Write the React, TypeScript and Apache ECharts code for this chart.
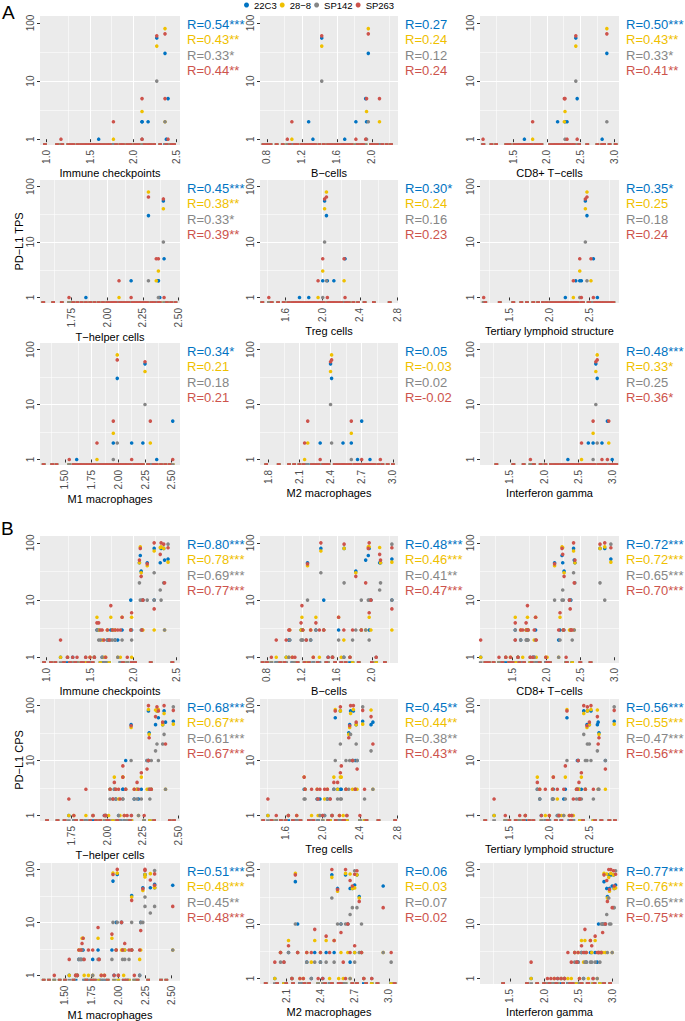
import React, { useEffect, useRef } from "react";
import * as echarts from "echarts";

const FONT = '"Liberation Sans", Arial, Helvetica, sans-serif';
const ANTIBODIES = ["22C3", "28−8", "SP142", "SP263"];
const COLORS = ["#0073C2", "#EFC000", "#868686", "#CD534C"];

// y axis (log10) tick labels
const Y_TICKS = [1, 10, 100];
const Y_MIN = -0.1;
const Y_MAX = 2.12;

// ---------- Section A: PD-L1 TPS per sample (41 samples) ----------
const tps22C3 = [55, 30, 2, 0, 5, 2, 2, 1, 0, 1, 0,
  0, 0, 0, 0, 0, 0, 0, 0, 0, 0, 0, 0, 0, 0, 0, 0, 0, 0, 0, 0, 0, 0, 0, 0, 0, 0, 0, 0, 0, 0];
const tps288 = [40, 80, 3, 2, 0, 0, 0, 0, 1, 0, 0,
  0, 0, 0, 0, 0, 0, 0, 0, 0, 0, 0, 0, 0, 0, 0, 0, 0, 0, 0, 0, 0, 0, 0, 0, 0, 0, 0, 0, 0, 0];
const tpsSP142 = [10, 2, 1, 0, 0, 0, 0, 0, 0, 0, 0,
  0, 0, 0, 0, 0, 0, 0, 0, 0, 0, 0, 0, 0, 0, 0, 0, 0, 0, 0, 0, 0, 0, 0, 0, 0, 0, 0, 0, 0, 0];
const tpsSP263 = [60, 65, 5, 5, 1, 1, 0, 0, 2, 0, 1,
  0, 0, 0, 0, 0, 0, 0, 0, 0, 0, 0, 0, 0, 0, 0, 0, 0, 0, 0, 0, 0, 0, 0, 0, 0, 0, 0, 0, 0, 0];

// signature scores (x) per sample, section A
const xA_immune = [2.27, 2.365, 2.10, 2.365, 2.40, 2.10, 2.17, 2.38, 1.77, 1.60, 1.165, 0.98, 1.12, 1.18, 1.25, 1.28, 1.31, 1.36, 1.40, 1.44, 1.47, 1.50, 1.53, 1.56, 1.62, 1.66, 1.70, 1.73, 1.80, 1.85, 1.88, 1.93, 1.97, 2.02, 2.06, 2.13, 2.20, 2.24, 2.31, 2.44, 2.47];
const xA_bcells = [1.427, 1.96, 1.94, 2.088, 1.93, 1.818, 1.277, 1.69, 1.085, 1.326, 1.033, 0.76, 0.80, 0.84, 0.91, 0.98, 1.06, 1.12, 1.15, 1.20, 1.24, 1.30, 1.35, 1.40, 1.45, 1.50, 1.54, 1.58, 1.62, 1.66, 1.73, 1.77, 1.84, 1.88, 1.90, 1.99, 2.02, 2.06, 2.12, 2.17, 2.22];
const xA_cd8 = [2.43, 2.89, 2.27, 2.26, 2.45, 2.30, 2.16, 2.82, 1.79, 1.668, 1.055, 1.06, 1.18, 1.25, 1.40, 1.45, 1.52, 1.57, 1.60, 1.64, 1.70, 1.74, 1.77, 1.83, 1.88, 1.92, 2.05, 2.10, 2.13, 2.20, 2.24, 2.28, 2.33, 2.37, 2.40, 2.48, 2.60, 2.75, 2.85, 2.93, 3.02];
const xA_th = [2.395, 2.29, 2.36, 2.345, 2.40, 2.168, 2.36, 2.37, 2.083, 1.85, 1.731, 1.55, 1.62, 1.68, 1.76, 1.79, 1.82, 1.88, 1.91, 1.94, 1.97, 2.00, 2.02, 2.04, 2.06, 2.09, 2.11, 2.13, 2.15, 2.18, 2.20, 2.22, 2.24, 2.26, 2.28, 2.31, 2.33, 2.42, 2.45, 2.48, 2.05];
const xA_treg = [2.02, 2.04, 2.00, 2.23, 2.24, 2.05, 2.12, 1.85, 1.95, 1.75, 1.42, 1.35, 1.45, 1.52, 1.58, 1.63, 1.67, 1.70, 1.72, 1.77, 1.80, 1.83, 1.87, 1.90, 1.92, 1.96, 1.99, 2.01, 2.06, 2.08, 2.10, 2.14, 2.17, 2.20, 2.25, 2.28, 2.33, 2.38, 2.45, 2.55, 2.72];
const xA_tls = [2.45, 2.47, 2.38, 2.52, 2.55, 2.40, 2.33, 2.60, 2.30, 2.20, 1.18, 1.20, 1.38, 1.55, 1.65, 1.72, 1.80, 1.86, 1.92, 1.97, 2.02, 2.06, 2.10, 2.14, 2.18, 2.22, 2.26, 2.29, 2.32, 2.35, 2.42, 2.49, 2.50, 2.57, 2.62, 2.65, 2.68, 2.72, 2.76, 2.80, 2.40];
const xA_m1 = [2.25, 1.99, 1.953, 2.30, 2.51, 2.125, 2.23, 2.36, 1.80, 1.61, 1.54, 1.30, 1.38, 1.42, 1.58, 1.64, 1.66, 1.69, 1.72, 1.75, 1.78, 1.82, 1.85, 1.88, 1.90, 1.93, 1.96, 1.98, 2.01, 2.03, 2.06, 2.08, 2.11, 2.15, 2.18, 2.20, 2.28, 2.33, 2.40, 2.44, 2.48];
const xA_m2 = [2.40, 2.41, 2.60, 2.18, 2.70, 2.30, 2.52, 2.78, 2.15, 2.66, 2.88, 1.78, 1.90, 2.00, 2.05, 2.10, 2.14, 2.22, 2.25, 2.28, 2.33, 2.36, 2.44, 2.47, 2.50, 2.54, 2.57, 2.59, 2.63, 2.65, 2.68, 2.72, 2.74, 2.76, 2.80, 2.82, 2.86, 2.90, 2.95, 3.00, 2.38];
const xA_ifn = [2.76, 2.78, 2.72, 2.95, 2.93, 2.85, 2.65, 3.00, 2.55, 2.35, 1.80, 1.30, 1.55, 1.70, 1.85, 1.95, 2.02, 2.10, 2.15, 2.20, 2.25, 2.30, 2.38, 2.42, 2.46, 2.50, 2.53, 2.58, 2.61, 2.63, 2.68, 2.70, 2.74, 2.80, 2.83, 2.88, 2.90, 2.97, 3.03, 3.06, 2.40];

// ---------- Section B: PD-L1 CPS per sample (52 samples) ----------
const cps22C3 = [52, 80, 80, 80, 50, 45, 60, 32, 45, 45, 10, 10, 3, 10, 3, 3, 2, 3, 3, 3, 2, 1, 0, 1, 0, 3, 0, 0, 1, 0, 0, 0, 0, 1, 0, 0, 2, 0,
  0, 0, 0, 0, 0, 0, 0, 0, 0, 0, 0, 0, 0, 0];
const cps288 = [46, 85, 80, 72, 3, 83, 85, 30, 40, 45, 3, 3, 5, 3, 5, 5, 3, 3, 3, 5, 3, 1, 1, 1, 1, 3, 1, 0, 2, 1, 0, 1, 0, 0, 0, 1, 1, 0,
  0, 0, 0, 0, 0, 0, 0, 0, 0, 0, 0, 0, 0, 0];
const cpsSP142 = [95, 10, 20, 30, 3, 15, 10, 3, 10, 20, 10, 3, 2, 10, 2, 3, 2, 10, 2, 2, 2, 0, 0, 1, 0, 2, 0, 2, 1, 1, 0, 0, 1, 0, 0, 0, 1, 2,
  0, 0, 0, 0, 0, 0, 0, 0, 0, 0, 0, 0, 0, 0];
const cpsSP263 = [82, 100, 95, 100, 20, 63, 80, 26, 43, 50, 7, 3, 6, 10, 8, 4, 3, 3, 3, 5, 3, 2, 2, 1, 1, 4, 3, 2, 3, 1, 1, 0, 1, 1, 1, 1, 3, 3,
  0, 0, 0, 0, 0, 0, 0, 0, 0, 0, 0, 0, 0, 0];

const xB_immune = [2.40, 2.32, 2.35, 2.24, 2.36, 2.31, 2.08, 2.09, 2.16, 2.07, 2.24, 1.97, 1.98, 2.11, 1.74, 1.58, 1.79, 2.10, 1.76, 1.87, 1.70, 1.16, 1.66, 1.55, 1.50, 1.60, 1.85, 1.72, 1.64, 1.24, 1.93, 1.98, 1.45, 1.30, 1.35, 1.68, 1.82, 1.62, 0.97, 1.05, 1.10, 1.20, 1.27, 1.33, 1.40, 1.42, 1.48, 1.53, 1.88, 2.02, 2.20, 2.45];
const xB_bcells = [2.23, 1.97, 1.683, 1.417, 1.93, 2.09, 1.96, 1.817, 1.264, 2.10, 2.23, 1.45, 1.97, 1.99, 1.20, 1.36, 1.06, 1.88, 1.21, 1.62, 1.30, 1.02, 0.906, 1.55, 1.09, 1.19, 1.40, 1.25, 1.68, 1.75, 1.12, 1.65, 2.05, 1.50, 0.85, 1.33, 1.05, 1.78, 0.75, 0.80, 0.95, 1.00, 1.15, 1.23, 1.28, 1.38, 1.48, 1.58, 1.70, 1.85, 2.00, 2.15];
const xB_cd8 = [2.95, 2.86, 2.79, 2.40, 2.41, 2.24, 2.23, 2.26, 2.12, 2.42, 2.35, 2.36, 2.20, 2.34, 1.72, 1.54, 1.71, 2.25, 1.73, 1.84, 1.62, 1.03, 1.85, 1.58, 1.47, 1.70, 1.65, 1.54, 1.82, 1.40, 2.29, 2.01, 1.76, 1.80, 1.30, 1.99, 2.18, 2.38, 1.10, 1.15, 1.22, 1.35, 1.45, 1.50, 1.60, 1.67, 1.78, 1.90, 2.05, 2.30, 2.50, 2.65];
const xB_th = [2.465, 2.29, 2.35, 2.40, 2.41, 2.34, 2.36, 2.295, 2.168, 2.39, 2.28, 2.13, 2.24, 2.29, 2.11, 2.05, 2.19, 2.31, 2.02, 2.11, 2.06, 1.73, 2.09, 1.99, 1.765, 2.21, 1.85, 2.04, 2.08, 1.90, 2.14, 2.01, 2.17, 1.98, 2.26, 2.12, 2.22, 2.30, 1.577, 1.65, 1.70, 1.78, 1.82, 1.88, 1.92, 1.95, 2.00, 2.07, 2.16, 2.33, 2.44, 2.47];
const xB_treg = [2.43, 2.33, 2.19, 2.30, 2.54, 2.52, 2.135, 2.28, 2.29, 2.36, 2.37, 2.35, 2.19, 2.32, 2.20, 2.12, 1.94, 2.25, 1.81, 1.80, 2.05, 1.41, 1.95, 2.10, 1.72, 2.16, 1.88, 2.08, 2.02, 1.63, 2.40, 2.22, 2.26, 2.00, 1.50, 2.18, 1.97, 2.45, 1.36, 1.45, 1.55, 1.60, 1.68, 1.76, 1.85, 1.90, 2.06, 2.14, 2.23, 2.47, 2.60, 2.78];
const xB_tls = [2.81, 2.52, 2.475, 2.43, 2.61, 2.60, 2.22, 2.62, 2.47, 2.50, 2.70, 2.35, 2.40, 2.36, 2.20, 1.85, 2.04, 2.45, 2.34, 2.05, 1.88, 1.31, 2.30, 2.12, 2.00, 2.37, 1.95, 2.38, 2.10, 1.70, 1.63, 2.15, 2.28, 1.90, 1.45, 2.25, 2.18, 2.55, 1.20, 1.50, 1.58, 1.68, 1.75, 1.80, 1.98, 2.08, 2.27, 2.42, 2.57, 2.65, 2.75, 2.82];
const xB_m1 = [2.34, 1.99, 2.25, 2.25, 2.51, 2.30, 1.95, 2.125, 2.23, 2.34, 2.21, 1.98, 1.94, 2.03, 1.81, 1.66, 1.65, 2.125, 2.04, 1.67, 1.63, 1.54, 1.68, 1.616, 1.84, 2.06, 1.72, 1.82, 2.20, 1.60, 1.40, 2.05, 2.00, 1.96, 2.15, 1.87, 1.76, 2.10, 1.30, 1.35, 1.45, 1.50, 1.58, 1.70, 1.75, 1.78, 1.90, 2.08, 2.18, 2.28, 2.40, 2.45];
const xB_m2 = [2.70, 2.62, 2.72, 2.50, 2.95, 2.66, 2.18, 2.74, 2.55, 2.68, 2.58, 2.20, 2.45, 2.64, 2.35, 2.12, 2.40, 2.76, 2.05, 2.52, 2.28, 2.00, 2.60, 2.15, 2.25, 2.70, 2.48, 2.08, 2.32, 2.78, 2.38, 2.56, 2.85, 2.42, 2.62, 2.22, 2.66, 3.02, 1.92, 2.02, 2.10, 2.16, 2.26, 2.30, 2.44, 2.50, 2.58, 2.68, 2.72, 2.80, 2.90, 3.05];
const xB_ifn = [3.05, 2.98, 3.02, 2.95, 3.00, 2.92, 2.88, 2.93, 2.96, 3.03, 2.86, 2.80, 2.75, 2.90, 2.60, 2.55, 2.62, 2.84, 2.45, 2.68, 2.50, 1.81, 2.40, 2.30, 2.15, 2.70, 2.35, 2.48, 2.58, 2.25, 2.10, 2.65, 2.72, 2.20, 2.05, 2.52, 2.78, 2.82, 1.40, 1.75, 1.90, 2.00, 2.08, 2.18, 2.28, 2.38, 2.42, 2.55, 2.64, 2.74, 2.88, 2.97];

// panel titles
const TITLES = ["Immune checkpoints", "B−cells", "CD8+ T−cells", "T−helper cells", "Treg cells",
  "Tertiary lymphoid structure", "M1 macrophages", "M2 macrophages", "Interferon gamma"];

// x tick labels per panel
const ticksImmune = [1.0, 1.5, 2.0, 2.5];
const ticksBcells = [0.8, 1.2, 1.6, 2.0];
const ticksCD8 = [1.5, 2.0, 2.5, 3.0];
const ticksTh = [1.75, 2.0, 2.25, 2.5];
const ticksTreg = [1.6, 2.0, 2.4, 2.8];
const ticksTLS = [1.5, 2.0, 2.5];
const ticksM1 = [1.5, 1.75, 2.0, 2.25, 2.5];
const ticksM2A = [1.8, 2.1, 2.4, 2.7, 3.0];
const ticksM2B = [2.1, 2.4, 2.7, 3.0];
const ticksIFN = [1.5, 2.0, 2.5, 3.0];

// correlation labels (22C3, 28-8, SP142, SP263)
const R_A = [
  ["0.54***", "0.43**", "0.33*", "0.44**"],
  ["0.27", "0.24", "0.12", "0.24"],
  ["0.50***", "0.43**", "0.33*", "0.41**"],
  ["0.45***", "0.38**", "0.33*", "0.39**"],
  ["0.30*", "0.24", "0.16", "0.23"],
  ["0.35*", "0.25", "0.18", "0.24"],
  ["0.34*", "0.21", "0.18", "0.21"],
  ["0.05", "-0.03", "0.02", "-0.02"],
  ["0.48***", "0.33*", "0.25", "0.36*"],
];
const R_B = [
  ["0.80***", "0.78***", "0.69***", "0.77***"],
  ["0.48***", "0.46***", "0.41**", "0.47***"],
  ["0.72***", "0.72***", "0.65***", "0.70***"],
  ["0.68***", "0.67***", "0.61***", "0.67***"],
  ["0.45**", "0.44**", "0.38**", "0.43**"],
  ["0.56***", "0.55***", "0.47***", "0.56***"],
  ["0.51***", "0.48***", "0.45**", "0.48***"],
  ["0.06", "0.03", "0.07", "0.02"],
  ["0.77***", "0.76***", "0.65***", "0.75***"],
];

// ---------- layout ----------
const COLS = [
  { left: 40, width: 140 },
  { left: 260, width: 138 },
  { left: 480, width: 139 },
];
const ROWS = [
  { top: 16, height: 129 },
  { top: 180, height: 123 },
  { top: 343, height: 122 },
  { top: 536, height: 127 },
  { top: 699, height: 122 },
  { top: 863, height: 121 },
];
const DOT = 3.6;

type Panel = {
  xs: number[];
  ys: number[][];
  title: string;
  range: number[];
  step: number;
  ticks: number[];
  r: string[];
  row: number;
  col: number;
  ylab?: string;
};

function buildPanels(): Panel[] {
  const A = [tps22C3, tps288, tpsSP142, tpsSP263];
  const B = [cps22C3, cps288, cpsSP142, cpsSP263];
  const xsA = [xA_immune, xA_bcells, xA_cd8, xA_th, xA_treg, xA_tls, xA_m1, xA_m2, xA_ifn];
  const xsB = [xB_immune, xB_bcells, xB_cd8, xB_th, xB_treg, xB_tls, xB_m1, xB_m2, xB_ifn];
  const rangesA = [[0.923, 2.538], [0.72, 2.3], [1.01, 3.07], [1.527, 2.512], [1.325, 2.81], [1.134, 2.87], [1.266, 2.578], [1.72, 3.05], [1.06, 3.1]];
  const rangesB = [[0.923, 2.538], [0.72, 2.3], [1.02, 3.07], [1.527, 2.512], [1.325, 2.81], [1.134, 2.87], [1.266, 2.578], [1.87, 3.08], [1.06, 3.1]];
  const steps = [0.5, 0.4, 0.5, 0.25, 0.4, 0.5, 0.25, 0.3, 0.5];
  const ticksA = [ticksImmune, ticksBcells, ticksCD8, ticksTh, ticksTreg, ticksTLS, ticksM1, ticksM2A, ticksIFN];
  const ticksB = [ticksImmune, ticksBcells, ticksCD8, ticksTh, ticksTreg, ticksTLS, ticksM1, ticksM2B, ticksIFN];
  const out: Panel[] = [];
  for (let s = 0; s < 2; s++) {
    for (let i = 0; i < 9; i++) {
      out.push({
        xs: s === 0 ? xsA[i] : xsB[i],
        ys: s === 0 ? A : B,
        title: TITLES[i],
        range: s === 0 ? rangesA[i] : rangesB[i],
        step: steps[i],
        ticks: s === 0 ? ticksA[i] : ticksB[i],
        r: s === 0 ? R_A[i] : R_B[i],
        row: s * 3 + Math.floor(i / 3),
        col: i % 3,
        ylab: i === 3 ? (s === 0 ? "PD−L1 TPS" : "PD−L1 CPS") : undefined,
      });
    }
  }
  return out;
}

// zero values sit on the panel's lower edge (log scale -Inf), drawn clipped as half dots
const toPoint = (x: number, v: number) =>
  v > 0
    ? [x, Math.log10(v)]
    : { value: [x, Y_MIN], symbol: "rect", symbolSize: [DOT, DOT / 2], symbolOffset: [0, -DOT / 4] };

function buildOption() {
  const panels = buildPanels();
  const grids: any[] = [];
  const xAxes: any[] = [];
  const yAxes: any[] = [];
  const series: any[] = [];
  const graphics: any[] = [];
  const yTickVals = Y_TICKS.map((t) => Math.log10(t));

  panels.forEach((p, i) => {
    const c = COLS[p.col];
    const r = ROWS[p.row];
    grids.push({
      left: c.left, top: r.top, width: c.width, height: r.height,
      show: true, backgroundColor: "#EBEBEB", borderWidth: 0, borderColor: "transparent",
    });
    const dec = p.step < 0.3 ? 2 : 1;
    xAxes.push({
      type: "value", gridIndex: i, min: p.range[0], max: p.range[1],
      splitNumber: 4, minInterval: p.step, maxInterval: p.step,
      name: p.title, nameLocation: "middle", nameGap: dec === 2 ? 23 : 18,
      nameTextStyle: { fontSize: 11, color: "#000", fontFamily: FONT },
      axisLine: { show: false },
      axisTick: { show: true, length: 3, lineStyle: { color: "#333", width: 1 }, customValues: p.ticks },
      axisLabel: {
        rotate: 90, margin: 5, fontSize: 10, color: "#4D4D4D", fontFamily: FONT,
        customValues: p.ticks, showMinLabel: true, showMaxLabel: true,
        formatter: (v: number) => (p.ticks.some((t) => Math.abs(t - v) < 1e-6) ? v.toFixed(dec) : ""),
      },
      splitLine: { show: true, showMinLine: false, showMaxLine: false, lineStyle: { color: "#FFFFFF", width: 1.1 } },
      minorTick: { show: false, splitNumber: 2 },
      minorSplitLine: { show: true, lineStyle: { color: "#FFFFFF", width: 0.55 } },
    });
    yAxes.push({
      type: "value", gridIndex: i, min: Y_MIN, max: Y_MAX,
      splitNumber: 2, minInterval: 1, maxInterval: 1,
      name: p.ylab || "", nameLocation: "middle", nameGap: 13,
      nameTextStyle: { fontSize: 11, color: "#000", fontFamily: FONT },
      axisLine: { show: false },
      axisTick: { show: true, length: 3, lineStyle: { color: "#333", width: 1 }, customValues: yTickVals },
      axisLabel: {
        rotate: 90, margin: 5, fontSize: 10, color: "#4D4D4D", fontFamily: FONT,
        customValues: yTickVals,
        formatter: (v: number) => {
          const k = yTickVals.findIndex((t) => Math.abs(t - v) < 1e-6);
          return k >= 0 ? String(Y_TICKS[k]) : "";
        },
      },
      splitLine: { show: true, showMinLine: false, showMaxLine: false, lineStyle: { color: "#FFFFFF", width: 1.1 } },
      minorTick: { show: false, splitNumber: 2 },
      minorSplitLine: { show: true, lineStyle: { color: "#FFFFFF", width: 0.55 } },
    });
    p.ys.forEach((vals, k) => {
      series.push({
        type: "scatter", name: ANTIBODIES[k], xAxisIndex: i, yAxisIndex: i,
        symbol: "circle", symbolSize: DOT, clip: true, silent: true,
        itemStyle: { color: COLORS[k], opacity: 1 },
        data: p.xs.map((x, j) => toPoint(x, vals[j])),
      });
    });
    p.r.forEach((txt, k) => {
      graphics.push({
        type: "text", x: c.left + c.width + 7, y: r.top + 8 + k * 15.6,
        silent: true,
        style: { text: "R=" + txt, fill: COLORS[k], fontSize: 13, fontFamily: FONT, verticalAlign: "middle", align: "left" },
      });
    });
  });

  graphics.push({ type: "text", x: 2, y: 3, style: { text: "A", fill: "#000", fontSize: 19, fontFamily: FONT } });
  graphics.push({ type: "text", x: 1, y: 519, style: { text: "B", fill: "#000", fontSize: 19, fontFamily: FONT } });

  return {
    animation: false,
    backgroundColor: "#FFFFFF",
    textStyle: { fontFamily: FONT },
    legend: {
      data: ANTIBODIES, left: 244, top: 0, padding: 0, icon: "circle",
      itemWidth: 5, itemHeight: 5, itemGap: 3, selectedMode: false,
      textStyle: { fontSize: 9.5, color: "#000", fontFamily: FONT },
    },
    grid: grids,
    xAxis: xAxes,
    yAxis: yAxes,
    series,
    graphic: graphics,
  };
}

export default function App() {
  const ref = useRef<HTMLDivElement>(null);
  useEffect(() => {
    document.body.style.margin = "0";
    const chart = echarts.init(ref.current as HTMLDivElement, null, { renderer: "svg" });
    chart.setOption(buildOption() as any);
    return () => chart.dispose();
  }, []);
  return <div ref={ref} style={{ width: 685, height: 1021 }} />;
}
